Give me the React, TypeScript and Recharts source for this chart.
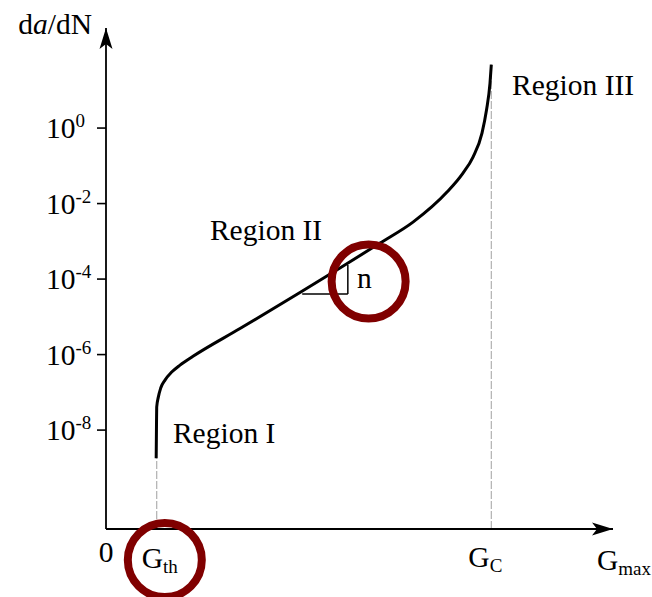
import React from 'react';
import { LineChart, Line, XAxis, YAxis, ReferenceLine, ReferenceDot } from 'recharts';

// Fatigue crack growth curve: crack growth rate da/dN vs. maximum energy release rate G_max
const gMax = [
  0.99, 0.995, 1.0, 1.032, 1.079, 1.164, 1.296, 1.46, 1.716, 2.643, 3.826, 4.615, 5.404,
  6.055, 6.726, 7.041, 7.239, 7.416, 7.505, 7.574, 7.6,
];
const crackRate = [
  1.8e-9, 1.0e-8, 4.06e-8, 7.48e-8, 1.3e-7, 2.11e-7, 3.44e-7, 5.27e-7, 9.0e-7, 4.89e-6, 4.39e-5,
  1.96e-4, 8.99e-4, 3.23e-3, 2.02e-2, 6.43e-2, 0.171, 0.737, 3.0, 15.6, 48,
];

const G_TH = 1.0;
const G_C = 7.6;

const xDomain = [0, 10];
const yDomain = [2.4e-11, 447];

const yTicks = [1e-8, 1e-6, 1e-4, 1e-2, 1];
const xTicks = [0, G_TH, G_C, 10];
const xTickMain = ['0', 'G', 'G', 'G'];
const xTickSub = ['', 'th', 'C', 'max'];

const regionNames = ['Region I', 'Region II', 'Region III'];
const regionX = [1.32, 2.05, 8.01];
const regionY = [4.5e-9, 1.07e-3, 7.5];

// slope triangle on the Paris-law segment
const slopeX = [3.87, 4.77];
const slopeY = [4.0e-5, 2.35e-4];
const slopeLabel = { text: 'n', x: 4.95, y: 5.8e-5 };

// highlight rings
const ringX = [1.16, 5.18];
const ringY = [3.6e-12, 8.6e-5];

const data = gMax.map((g, i) => ({ g, rate: crackRate[i] }));

const FONT = '"Liberation Serif", "Times New Roman", serif';
const SIZE = 29.5;
const SMALL = 19;
const RING = '#800000';

const YTick = (props: any) => {
  const { x, y, payload } = props;
  const exp = Math.round(Math.log10(payload.value));
  return (
    <text x={x - 49} y={y + 10} fontFamily={FONT} fontSize={SIZE} fill="#000" textAnchor="start">
      <tspan>10</tspan>
      <tspan dy={-11} fontSize={SMALL}>{exp === 0 ? '0' : `-${Math.abs(exp)}`}</tspan>
    </text>
  );
};

const xShift = [0, -15, -23, -16];
const xDrop = [33, 39, 38, 41];

const XTick = (props: any) => {
  const { x, y, index } = props;
  const i = index;
  const sub = xTickSub[i];
  return (
    <text
      x={x + xShift[i]}
      y={y + xDrop[i]}
      fontFamily={FONT}
      fontSize={SIZE}
      fill="#000"
      textAnchor={sub ? 'start' : 'middle'}
    >
      <tspan>{xTickMain[i]}</tspan>
      {sub ? (
        <tspan dy={5} fontSize={SMALL}>
          {sub}
        </tspan>
      ) : null}
    </text>
  );
};

const textShape = (content: React.ReactNode, anchor: string = 'start') => (p: any) => (
  <text x={p.cx} y={p.cy} fontFamily={FONT} fontSize={SIZE} fill="#000" textAnchor={anchor}>
    {content}
  </text>
);

const upArrow = (p: any) => (
  <path
    d={`M${p.cx},${p.cy} L${p.cx - 6.5},${p.cy + 21} L${p.cx},${p.cy + 16} L${p.cx + 6.5},${p.cy + 21} Z`}
    fill="#000"
    stroke="none"
  />
);

const rightArrow = (p: any) => (
  <path
    d={`M${p.cx},${p.cy} L${p.cx - 21},${p.cy - 6.5} L${p.cx - 16},${p.cy} L${p.cx - 21},${p.cy + 6.5} Z`}
    fill="#000"
    stroke="none"
  />
);

export default function App() {
  return (
    <div style={{ position: 'absolute', left: 0, top: 0, width: 652, height: 597, background: '#fff' }}>
      <LineChart width={652} height={597} data={data} margin={{ top: 28, right: 39, bottom: 38, left: 46 }}>
        <XAxis
          dataKey="g"
          type="number"
          domain={xDomain}
          ticks={xTicks}
          allowDataOverflow
          height={30}
          tickLine={false}
          tickSize={0}
          tickMargin={0}
          tick={<XTick />}
          axisLine={{ stroke: '#000', strokeWidth: 2 }}
          interval={0}
        />
        <YAxis
          type="number"
          scale="log"
          domain={yDomain}
          ticks={yTicks}
          allowDataOverflow
          width={60}
          tickSize={9}
          tickMargin={2}
          tickLine={{ stroke: '#000', strokeWidth: 1.6 }}
          axisLine={{ stroke: '#000', strokeWidth: 1.8 }}
          tick={<YTick />}
          interval={0}
        />
        <ReferenceLine
          segment={[{ x: G_TH, y: yDomain[0] }, { x: G_TH, y: crackRate[0] }]}
          stroke="#b0b0b0"
          strokeWidth={1.2}
          strokeDasharray="8 2"
        />
        <ReferenceLine
          segment={[{ x: G_C, y: yDomain[0] }, { x: G_C, y: crackRate[crackRate.length - 1] }]}
          stroke="#b0b0b0"
          strokeWidth={1.2}
          strokeDasharray="8 2"
        />
        <ReferenceLine
          segment={[{ x: slopeX[0], y: slopeY[0] }, { x: slopeX[1], y: slopeY[0] }]}
          stroke="#000"
          strokeWidth={1.5}
        />
        <ReferenceLine
          segment={[{ x: slopeX[1], y: slopeY[0] }, { x: slopeX[1], y: slopeY[1] }]}
          stroke="#000"
          strokeWidth={1.5}
        />
        <Line
          dataKey="rate"
          type="monotone"
          stroke="#000"
          strokeWidth={3}
          dot={false}
          activeDot={false}
          isAnimationActive={false}
        />
        {regionNames.map((name, i) => (
          <ReferenceDot
            key={name}
            x={regionX[i]}
            y={regionY[i]}
            ifOverflow="visible"
            shape={textShape(name)}
          />
        ))}
        <ReferenceDot x={slopeLabel.x} y={slopeLabel.y} ifOverflow="visible" shape={textShape(slopeLabel.text)} />
        <ReferenceDot
          x={-0.276}
          y={309}
          ifOverflow="visible"
          shape={textShape(
            <>
              <tspan>d</tspan>
              <tspan fontStyle="italic">a</tspan>
              <tspan>/dN</tspan>
            </>,
            'end'
          )}
        />
        {ringX.map((rx, i) => (
          <ReferenceDot
            key={`ring-${i}`}
            x={rx}
            y={ringY[i]}
            r={37}
            ifOverflow="visible"
            fill="none"
            stroke={RING}
            strokeWidth={8}
          />
        ))}
        <ReferenceDot x={xDomain[0]} y={yDomain[1]} ifOverflow="visible" shape={upArrow} />
        <ReferenceDot x={xDomain[1]} y={yDomain[0]} ifOverflow="visible" shape={rightArrow} />
      </LineChart>
    </div>
  );
}
